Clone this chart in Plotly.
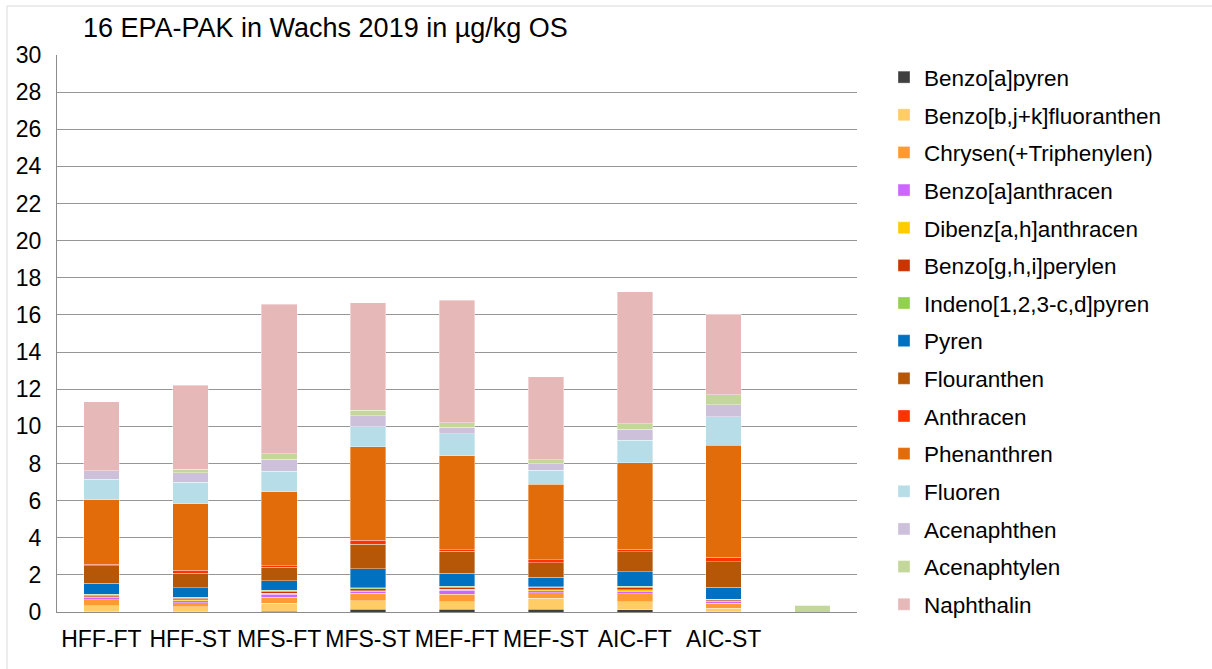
import plotly.graph_objects as go

categories = ["HFF-FT", "HFF-ST", "MFS-FT", "MFS-ST", "MEF-FT", "MEF-ST", "AIC-FT", "AIC-ST", " "]

benzo_a_pyren      = [0.02, 0.02, 0.03, 0.14, 0.14, 0.14, 0.11, 0.02, 0]
benzo_bjk_fluor    = [0.32, 0.25, 0.44, 0.47, 0.40, 0.60, 0.45, 0.18, 0]
chrysen            = [0.31, 0.23, 0.32, 0.39, 0.41, 0.30, 0.41, 0.27, 0]
benzo_a_anthracen  = [0.14, 0.11, 0.16, 0.10, 0.23, 0.11, 0.16, 0.09, 0]
dibenz_ah_anthr    = [0.04, 0.05, 0.06, 0.05, 0.05, 0.05, 0.07, 0.04, 0]
benzo_ghi_perylen  = [0.06, 0.08, 0.10, 0.10, 0.10, 0.10, 0.12, 0.05, 0]
indeno_pyren       = [0.06, 0.05, 0.07, 0.06, 0.07, 0.06, 0.08, 0.03, 0]
pyren              = [0.59, 0.52, 0.49, 1.01, 0.68, 0.51, 0.77, 0.65, 0]
flouranthen        = [0.95, 0.77, 0.74, 1.34, 1.20, 0.79, 1.08, 1.38, 0]
anthracen          = [0.09, 0.16, 0.08, 0.20, 0.06, 0.16, 0.14, 0.23, 0]
phenanthren        = [3.47, 3.59, 3.99, 5.04, 5.08, 4.07, 4.65, 6.05, 0]
fluoren            = [1.11, 1.15, 1.11, 1.08, 1.17, 0.74, 1.20, 1.53, 0]
acenaphthen        = [0.45, 0.52, 0.63, 0.59, 0.35, 0.36, 0.61, 0.63, 0]
acenaphtylen       = [0.00, 0.18, 0.31, 0.29, 0.26, 0.21, 0.29, 0.54, 0.36]
naphthalin         = [3.72, 4.54, 8.04, 5.80, 6.58, 4.46, 7.11, 4.34, 0]

series = [
    ("Benzo[a]pyren", benzo_a_pyren, "#404040"),
    ("Benzo[b,j+k]fluoranthen", benzo_bjk_fluor, "#FFCC66"),
    ("Chrysen(+Triphenylen)", chrysen, "#FF9933"),
    ("Benzo[a]anthracen", benzo_a_anthracen, "#CC66FF"),
    ("Dibenz[a,h]anthracen", dibenz_ah_anthr, "#FFCC00"),
    ("Benzo[g,h,i]perylen", benzo_ghi_perylen, "#CC3300"),
    ("Indeno[1,2,3-c,d]pyren", indeno_pyren, "#92D050"),
    ("Pyren", pyren, "#0070C0"),
    ("Flouranthen", flouranthen, "#B65708"),
    ("Anthracen", anthracen, "#FF3300"),
    ("Phenanthren", phenanthren, "#E36C0A"),
    ("Fluoren", fluoren, "#B7DDE8"),
    ("Acenaphthen", acenaphthen, "#CCC0DA"),
    ("Acenaphtylen", acenaphtylen, "#C4D79B"),
    ("Naphthalin", naphthalin, "#E6B9B8"),
]

W, H = 1212, 669
L, R, T, B = 57, 857, 55, 612

fig = go.Figure()
for name, vals, col in series:
    fig.add_trace(go.Bar(
        x=categories, y=vals, name=name, legendgroup=name,
        marker=dict(color=col, line=dict(width=0.6, color="rgba(255,255,255,0.6)")),
    ))

fnt = "Liberation Sans, Arial, sans-serif"
fig.update_layout(
    width=W, height=H, autosize=False,
    barmode="stack", bargap=0.6,
    paper_bgcolor="white", plot_bgcolor="white",
    margin=dict(l=L, r=W - R, t=T, b=H - B, pad=0),
    font=dict(family=fnt, size=22, color="#000000"),
    title=dict(text="16 EPA-PAK in Wachs 2019 in µg/kg OS",
               x=83 / W, xref="container", xanchor="left",
               y=1 - 28 / H, yref="container", yanchor="middle",
               font=dict(size=27, family=fnt, color="#000000")),
    legend=dict(x=884 / W, xref="container", xanchor="left",
                y=1 - 56 / H, yref="container", yanchor="top",
                traceorder="grouped", tracegroupgap=5.4, maxheight=700,
                font=dict(size=22.5, family=fnt, color="#000000"),
                bgcolor="rgba(0,0,0,0)"),
    xaxis=dict(type="category", showgrid=False, showline=True, linecolor="#8c8c8c",
               linewidth=1, ticks="outside", ticklen=6, tickcolor="rgba(0,0,0,0)",
               tickfont=dict(size=23, family=fnt, color="#000000")),
    yaxis=dict(range=[0, 30], dtick=2, showgrid=True, gridcolor="#969696", gridwidth=1,
               showline=True, linecolor="#8c8c8c", linewidth=1, zeroline=False,
               ticks="outside", ticklen=10, tickcolor="rgba(0,0,0,0)",
               tickfont=dict(size=23, family=fnt, color="#000000")),
    shapes=[
        dict(type="line", xref="paper", yref="paper",
             x0=(7 - L) / (R - L), x1=(7 - L) / (R - L),
             y0=(B - 6) / (B - T), y1=(B - H) / (B - T),
             line=dict(color="#d9d9d9", width=1)),
        dict(type="line", xref="paper", yref="paper",
             x0=(7 - L) / (R - L), x1=(W - L) / (R - L),
             y0=(B - 6) / (B - T), y1=(B - 6) / (B - T),
             line=dict(color="#d9d9d9", width=1)),
    ],
)

fig.write_html("out.html", config={"displayModeBar": False},
               post_script="document.body.style.margin='0';")
